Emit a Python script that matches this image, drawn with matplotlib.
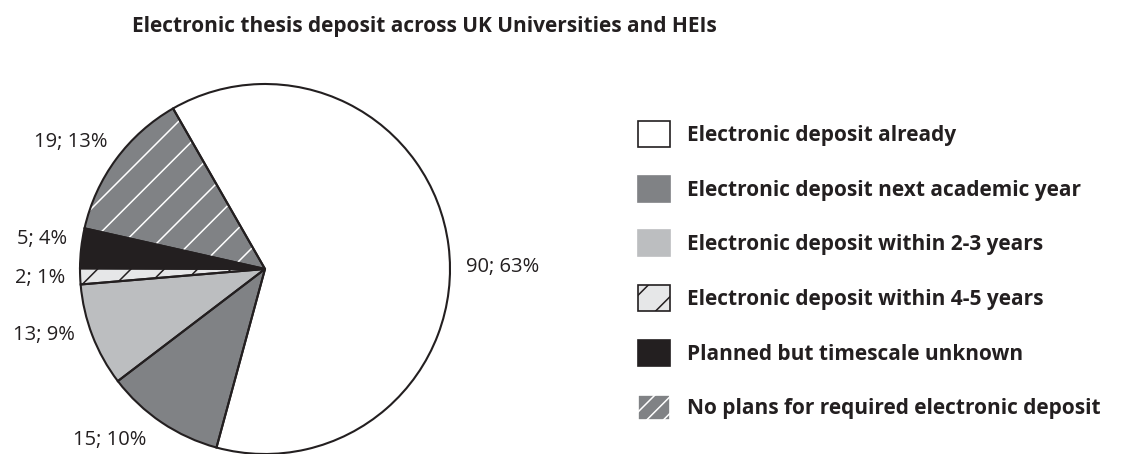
import matplotlib
matplotlib.use("Agg")
import matplotlib.pyplot as plt
from matplotlib.patches import Patch

plt.rcParams['font.family'] = ['Open Sans', 'DejaVu Sans']
plt.rcParams['hatch.linewidth'] = 1.1

categories = [
    "Electronic deposit already",
    "Electronic deposit next academic year",
    "Electronic deposit within 2-3 years",
    "Electronic deposit within 4-5 years",
    "Planned but timescale unknown",
    "No plans for required electronic deposit",
]
counts = [90, 15, 13, 2, 5, 19]
percents = [63, 10, 9, 1, 4, 13]

fills = ["#ffffff", "#808285", "#bcbec0", "#e6e7e8", "#231f20", "#808285"]
hatches = [None, None, None, "/", None, "/"]
legend_hatches = [None, None, None, "/", None, "//"]
hatch_colors = ["#231f20", "#808285", "#bcbec0", "#231f20", "#231f20", "#ffffff"]
outline = "#231f20"

W, H = 1127, 454

# label anchors in figure pixels (x, baseline y from top) and alignment
label_pos = [(466, 272, "left"), (110, 445, "center"), (44, 340, "center"),
             (40, 283, "center"), (42, 244, "center"), (71, 147, "center")]

fig = plt.figure(figsize=(W / 100, H / 100), dpi=100)
ax = fig.add_axes([0, 0, 1, 1])

cx, cy, r = 265, H - 269, 185
start = 119.8

# filled + hatched wedges
wedges, _ = ax.pie(counts, colors=fills, startangle=start, counterclock=False,
                   center=(cx, cy), radius=r,
                   wedgeprops=dict(linewidth=0))
for w, h, hc in zip(wedges, hatches, hatch_colors):
    if h:
        w.set_hatch(h)
        w.set_edgecolor(hc)

# outlines on top
ax.pie(counts, colors=["none"] * len(counts), startangle=start, counterclock=False,
       center=(cx, cy), radius=r,
       wedgeprops=dict(linewidth=1.5, edgecolor=outline, facecolor="none"))

for c, p, (x, y, ha) in zip(counts, percents, label_pos):
    ax.text(x, H - y, f"{c}; {p}%", ha=ha, va="baseline", fontsize=14.5,
            color=outline)

ax.set_xlim(0, W)
ax.set_ylim(0, H)
ax.set_aspect("equal")
ax.axis("off")

ax.text(132, H - 32, "Electronic thesis deposit across UK Universities and HEIs",
        ha="left", va="baseline", fontsize=15, fontweight="bold", color=outline)

handles = []
for i, lab in enumerate(categories):
    ec = outline if i in (0, 3) else fills[i]
    if i == 5:
        ec = "#ffffff"
    handles.append(Patch(facecolor=fills[i], edgecolor=ec, hatch=legend_hatches[i],
                         linewidth=1.2, label=lab))

leg = fig.legend(handles=handles, loc="upper left",
                 bbox_to_anchor=(638 / W, 1 - 121 / H), frameon=False,
                 prop=dict(weight="bold", size=15),
                 handlelength=1.54, handleheight=1.54, handletextpad=0.82,
                 labelspacing=1.38, borderpad=0, borderaxespad=0)
for t in leg.get_texts():
    t.set_color(outline)

fig.savefig("out.png", dpi=100, facecolor="white")
